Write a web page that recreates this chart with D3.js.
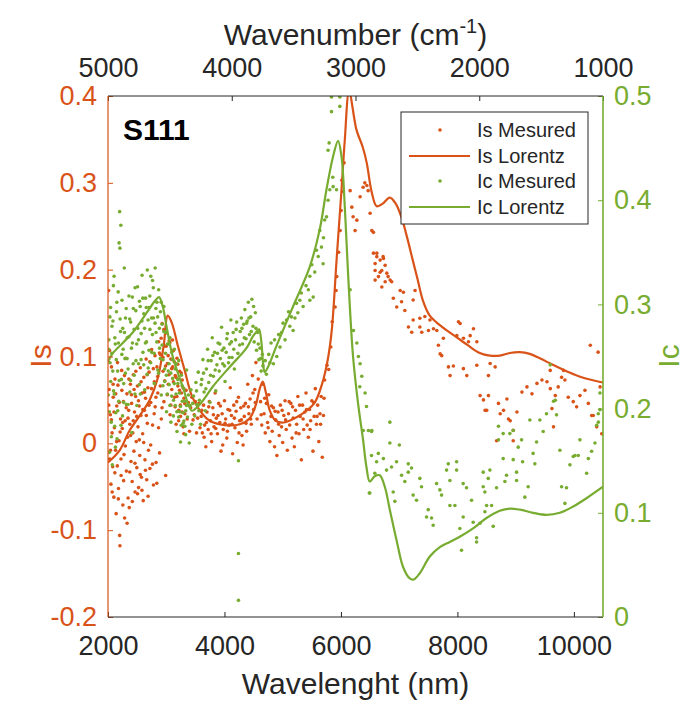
<!DOCTYPE html>
<html><head><meta charset="utf-8">
<script src="https://cdn.jsdelivr.net/npm/d3@7"></script>
<style>body{margin:0;background:#fff;} svg{display:block;font-family:"Liberation Sans",Arial,Helvetica,sans-serif;}</style>
</head><body><svg id="c" width="696" height="704"></svg>
<script>
// ---------- data ----------
const xTicks = [2000, 4000, 6000, 8000, 10000];
const topTicks = [5000, 4000, 3000, 2000, 1000];
const isTicks = [-0.2, -0.1, 0, 0.1, 0.2, 0.3, 0.4];
const icTicks = [0, 0.1, 0.2, 0.3, 0.4, 0.5];
const seriesNames = ["Is Mesured", "Is Lorentz", "Ic Mesured", "Ic Lorentz"];

const isLorentz = [[2000,-0.022],[2200,-0.008],[2373,0.015],[2545,0.032],[2716,0.05],[2854,0.075],[2957,0.113],[3025,0.147],[3094,0.139],[3197,0.113],[3317,0.084],[3438,0.055],[3575,0.038],[3747,0.026],[4004,0.021],[4262,0.022],[4434,0.029],[4537,0.044],[4606,0.063],[4657,0.071],[4709,0.059],[4777,0.038],[4880,0.026],[5018,0.024],[5206,0.029],[5378,0.036],[5550,0.047],[5670,0.067],[5773,0.096],[5842,0.13],[5928,0.214],[6009,0.291],[6066,0.349],[6140,0.405],[6267,0.361],[6375,0.341],[6443,0.323],[6529,0.289],[6615,0.273],[6718,0.276],[6838,0.283],[6941,0.276],[7045,0.259],[7148,0.234],[7233,0.211],[7319,0.188],[7405,0.165],[7525,0.147],[7645,0.139],[7817,0.13],[7989,0.122],[8178,0.113],[8384,0.104],[8556,0.101],[8728,0.101],[8900,0.104],[9072,0.105],[9243,0.103],[9415,0.098],[9621,0.091],[9810,0.085],[10016,0.079],[10188,0.075],[10500,0.07]];

const icLorentz = [[2000,0.245],[2080,0.253],[2252,0.263],[2424,0.273],[2665,0.292],[2802,0.303],[2876,0.307],[2940,0.298],[3008,0.278],[3111,0.25],[3283,0.221],[3438,0.198],[3523,0.201],[3661,0.21],[3798,0.221],[4090,0.24],[4377,0.258],[4485,0.269],[4554,0.274],[4594,0.276],[4635,0.263],[4662,0.244],[4691,0.235],[4748,0.24],[4892,0.26],[5064,0.283],[5178,0.298],[5464,0.336],[5636,0.372],[5751,0.41],[5865,0.442],[5951,0.457],[6009,0.442],[6066,0.394],[6122,0.33],[6208,0.25],[6294,0.205],[6380,0.17],[6438,0.144],[6495,0.13],[6581,0.135],[6667,0.136],[6753,0.125],[6839,0.103],[6954,0.074],[7067,0.048],[7182,0.037],[7251,0.036],[7354,0.042],[7526,0.058],[7698,0.067],[7869,0.072],[8041,0.077],[8269,0.085],[8499,0.095],[8728,0.102],[8900,0.104],[9072,0.103],[9300,0.1],[9530,0.098],[9759,0.1],[9987,0.106],[10217,0.114],[10500,0.125]];

const isMeasured = [[2010,0.176],[2020,0.062],[2030,-0.018],[2040,0.033],[2050,-0.047],[2060,0.088],[2070,0.012],[2080,-0.027],[2090,0.053],[2100,-0.062],[2110,0.018],[2120,0.074],[2130,-0.008],[2140,-0.081],[2150,0.043],[2160,-0.026],[2170,0.067],[2180,-0.052],[2190,0.003],[2200,-0.106],[2205,-0.118],[2215,0.028],[2225,-0.037],[2235,0.084],[2245,0.017],[2255,-0.071],[2265,0.048],[2275,-0.013],[2285,-0.086],[2295,0.026],
[2305,0.098],[2315,-0.032],[2325,0.057],[2335,0.007],[2345,-0.063],[2355,0.038],[2365,-0.074],[2375,0.022],[2385,0.068],[2395,-0.021],[2405,0.046],[2415,-0.044],[2425,0.012],[2435,0.079],[2445,-0.009],[2455,0.036],[2465,-0.056],[2475,0.054],[2485,0.002],[2495,-0.028],[2505,0.066],[2515,0.019],[2525,-0.051],[2535,0.043],[2545,-0.014],[2555,0.087],[2565,0.032],[2575,-0.039],[2585,0.058],[2595,0.011],[2605,-0.066],[2615,0.076],[2625,0.038],[2635,-0.019],[2645,0.052],[2655,0.097],[2665,-0.042],[2675,0.023],[2685,0.064],[2695,-0.008],
[2705,0.082],[2720,-0.029],[2735,0.047],[2750,0.108],[2765,0.021],[2780,-0.048],[2795,0.071],[2810,0.042],[2825,-0.022],[2840,0.088],[2855,0.058],[2870,0.117],[2885,-0.011],[2900,0.102],[2915,0.028],[2930,0.138],[2945,0.083],[2960,0.048],[2975,0.112],[2990,-0.037],[3005,0.127],[3020,0.092],[3035,0.068],[3050,0.118],[3065,0.033],[3080,0.097],[3095,0.062],
[3110,0.088],[3125,0.107],[3140,0.053],[3155,0.078],[3170,0.022],[3185,0.098],[3200,0.066],[3215,0.038],[3230,0.083],[3245,0.031],[3260,0.058],[3275,0.073],[3290,0.019],[3305,0.052],[3320,0.034],[3340,0.061],[3360,0.028],[3380,0.047],[3400,0.014],[3420,0.041],[3440,0.053],[3460,0.027],[3480,0.033],[3500,0.048],[3520,0.012],[3540,0.029],[3560,0.046],[3580,0.018],
[2012,0.044],[2027,0.107],[2043,-0.008],[2058,0.027],[2072,-0.056],[2088,0.068],[2103,0.036],[2118,-0.034],[2133,0.057],[2148,0.002],[2163,0.093],[2178,-0.064],[2193,0.047],[2208,0.013],[2223,-0.018],[2238,0.061],[2253,0.024],[2268,-0.043],[2283,0.078],[2298,-0.003],[2313,0.041],[2328,-0.092],[2343,0.029],[2358,0.074],[2373,-0.033],[2388,0.009],[2403,0.056],[2418,-0.067],[2433,0.026],[2448,0.062],[2463,-0.023],[2478,0.083],[2493,0.031],[2508,-0.058],[2523,0.049],[2538,0.004],[2553,-0.036],[2568,0.071],[2583,-0.054],[2598,0.039],[2613,0.001],[2628,0.059],[2643,-0.031],[2658,0.032],[2673,0.079],[2688,-0.061],[2703,0.044],[2718,0.094],[2733,-0.002],[2748,0.063],[2763,-0.024],[2778,0.086],[2793,0.034],[2808,0.101],[2823,0.053],[2838,-0.046],[2853,0.077],[2868,0.018],[2883,0.104],[2898,0.066],[2913,0.121],[2928,0.041],[2943,0.099],[2958,0.131],[2973,0.072],[2988,0.089],[3003,0.112],[3018,0.056],[3033,0.101],[3048,0.079],[3063,0.116],[3078,0.044],[3093,0.086],[3108,0.119],[3123,0.071],[3138,0.094],[3153,0.042],[3168,0.076],[3183,0.054],[3198,0.091],[3213,0.026],[3228,0.061],[3243,0.044],[3258,0.081],[3273,0.036],[3288,0.064],[3303,0.011],[3318,0.046],
[3600,0.031],[3620,0.012],[3640,0.044],[3660,0.021],[3680,-0.004],[3700,0.036],[3720,0.016],[3740,0.048],[3760,0.026],[3780,0.002],[3800,0.041],[3820,0.019],[3840,0.058],[3860,0.029],[3880,0.011],[3900,0.046],[3920,0.024],[3940,-0.009],[3960,0.034],[3980,0.016],[4000,0.049],[4020,0.028],[4040,0.006],[4060,0.039],[4080,0.021],[4100,0.064],[4120,0.032],[4140,-0.012],[4160,0.044],[4180,0.018],[4200,0.037],[4220,0.001],[4240,0.053],[4260,0.026],[4280,0.041],[4300,0.009],[4320,-0.002],[4340,0.031],[4360,0.046],[4380,0.014],[4400,0.068],[4420,0.034],[4440,0.051],[4460,0.022],[4480,0.078],[4500,0.039],[4520,0.062],[4540,0.093],[4560,0.028],[4580,0.074],
[3610,0.038],[3650,0.007],[3690,0.024],[3730,0.042],[3770,0.011],[3810,0.033],[3850,0.017],[3890,0.032],[3930,0.043],[3970,-0.002],[4010,0.023],[4050,0.014],[4090,0.038],[4130,0.022],[4170,0.029],[4210,0.048],[4250,0.012],[4290,0.027],[4330,0.043],[4370,0.023],[4410,0.042],[4450,0.028],[4490,0.058],[4530,0.047],[4630,0.033],[4690,0.052],[4750,0.018],[4810,0.043],[4870,0.037],[4930,0.022],[4990,0.038],[5050,0.027],[5110,0.048],[5170,0.042],[5230,0.012],[5290,0.044],[5350,0.028],[5410,0.039],[5470,0.016],[5530,0.047],[5590,0.031],[5650,0.022],
[4620,0.048],[4640,0.021],[4660,0.068],[4680,0.034],[4700,0.012],[4720,0.046],[4740,0.024],[4760,0.056],[4780,0.002],[4800,0.031],[4820,0.014],[4840,0.041],[4860,-0.004],[4880,0.027],[4900,-0.014],[4920,0.036],[4940,0.009],[4960,0.044],[4980,0.019],[5000,0.001],[5020,0.032],[5040,0.049],[5060,0.016],[5080,-0.008],[5100,0.034],[5120,0.021],[5140,0.046],[5160,0.006],[5180,0.029],[5200,-0.004],[5220,0.038],[5240,0.022],[5260,0.054],[5280,0.011],[5300,0.031],[5320,-0.019],[5340,0.044],[5360,0.016],[5380,0.036],[5400,0.058],[5420,0.021],[5440,0.007],[5460,0.039],[5480,0.026],[5500,0.049],[5520,-0.009],[5540,0.031],[5560,0.063],[5580,0.022],[5600,0.044],[5620,0.002],[5640,0.034],[5660,0.054],[5680,-0.016],[5700,0.032],[5710,0.052],[5720,0.073],
[5760,0.09],[5790,0.085],[5826,0.111],[5850,0.14],[5900,0.157],[5917,0.176],[5929,0.192],[5960,0.22],[5986,0.245],[6003,0.268],[6015,0.303],[6040,0.29],[6054,0.323],
[6158,0.291],[6187,0.272],[6209,0.261],[6243,0.245],[6273,0.257],[6329,0.284],[6381,0.295],[6410,0.3],[6445,0.297],[6467,0.291],[6501,0.265],[6530,0.245],[6558,0.243],[6587,0.199],[6616,0.219],[6644,0.192],[6673,0.211],[6701,0.199],[6724,0.215],[6759,0.186],[6810,0.192],
[6558,0.219],[6616,0.215],[6730,0.213],[6587,0.207],[6759,0.205],[6673,0.197],[6788,0.196],[6845,0.188],[6587,0.188],[6702,0.18],[6872,0.186],[7017,0.176],[7073,0.174],[7273,0.176],[6900,0.167],[7041,0.163],[6958,0.157],[7097,0.153],[7240,0.165],[7240,0.142],[7355,0.144],[7441,0.146],[7528,0.142],[7355,0.134],[7503,0.13],[7589,0.132],[7159,0.134],[7216,0.128],[7388,0.128],[7646,0.13],[8018,0.14],[8047,0.138],[8276,0.132],[8219,0.124],[7990,0.124],[8104,0.121],[8190,0.117],[8334,0.117],[7759,0.121],[7674,0.113],[7703,0.103],[7731,0.101],[7846,0.088],[7874,0.078],[7931,0.089],[8103,0.086],[8161,0.078],[8333,0.09],[8562,0.092],[8648,0.088],[8533,0.078],[8390,0.055],[8447,0.05],[8476,0.038],[8533,0.055],[8705,0.046],[8735,0.034],[8792,0.038],[8850,0.051],[8907,0.026],[9022,0.036],[9108,0.059],[9194,0.065],[9280,0.057],[9366,0.069],[9452,0.073],[9538,0.071],[9595,0.063],[9681,0.055],[9623,0.04],[9731,0.065],[9789,0.076],[9846,0.073],[9903,0.053],[9989,0.048],[10047,0.042],[10104,0.055],[10190,0.061],[10248,0.046],[10306,0.032],[10392,0.019],[10478,0.011],[10450,0.065],[9594,0.084],[9823,0.084],[8503,0.038],[8877,0.028],[9650,0.019],[10332,0.032],[8673,0.003],[8958,0.003],[8958,0.015],[10416,0.105],[10282,0.113]];

const icMeasured = [[2005,0.213],[2015,0.266],[2025,0.158],[2035,0.244],[2045,0.297],[2055,0.187],[2065,0.253],[2075,0.146],[2085,0.284],[2095,0.217],[2105,0.327],[2115,0.183],[2125,0.262],[2135,0.196],[2145,0.293],[2155,0.171],[2165,0.236],[2175,0.312],[2185,0.207],[2190,0.359],[2200,0.389],[2205,0.354],[2215,0.274],[2220,0.376],[2230,0.228],[2240,0.304],[2250,0.193],[2260,0.257],[2270,0.224],[2280,0.335],[2290,0.248],
[2300,0.287],[2315,0.204],[2330,0.268],[2345,0.238],[2360,0.308],[2375,0.216],[2390,0.283],[2405,0.177],[2420,0.263],[2435,0.296],[2450,0.232],[2465,0.316],[2480,0.246],[2495,0.203],[2510,0.277],[2525,0.243],[2540,0.303],[2555,0.214],[2570,0.272],[2585,0.328],[2600,0.254],[2615,0.291],[2630,0.218],[2645,0.306],[2660,0.264],[2675,0.333],[2690,0.239],
[2705,0.297],[2720,0.276],[2735,0.327],[2750,0.254],[2765,0.323],[2780,0.287],[2795,0.224],[2810,0.335],[2825,0.273],[2840,0.302],[2855,0.237],[2870,0.314],[2885,0.258],[2900,0.293],[2915,0.213],[2930,0.281],[2945,0.247],[2960,0.298],[2975,0.226],[2990,0.273],[3005,0.197],[3020,0.262],[3035,0.236],[3050,0.223],[3065,0.268],[3080,0.187],[3095,0.254],[3110,0.229],[3125,0.208],[3140,0.257],[3155,0.203],[3170,0.243],[3185,0.178],[3200,0.224],[3215,0.246],[3230,0.197],[3245,0.168],[3260,0.232],[3275,0.207],[3290,0.186],[3305,0.219],[3320,0.183],[3335,0.198],[3350,0.237],[3365,0.192],[3380,0.213],[3395,0.167],[3410,0.203],[3425,0.218],[3440,0.185],[3455,0.205],
[2010,0.257],[2022,0.197],[2033,0.288],[2047,0.226],[2058,0.173],[2068,0.279],[2082,0.236],[2093,0.318],[2108,0.214],[2118,0.268],[2128,0.163],[2142,0.247],[2152,0.302],[2168,0.198],[2178,0.263],[2193,0.227],[2208,0.286],[2223,0.184],[2238,0.252],[2253,0.277],[2268,0.206],[2283,0.273],[2298,0.234],[2313,0.296],[2328,0.248],[2343,0.204],[2358,0.269],[2373,0.286],[2388,0.227],[2403,0.258],[2418,0.307],[2433,0.243],[2448,0.276],[2463,0.214],[2478,0.294],[2493,0.262],[2508,0.317],[2523,0.266],[2538,0.223],[2553,0.298],[2568,0.247],[2583,0.284],[2598,0.306],[2613,0.242],[2628,0.277],[2643,0.263],[2658,0.297],[2673,0.233],[2688,0.285],[2703,0.256],[2718,0.308],[2733,0.244],[2748,0.287],[2763,0.271],[2778,0.316],[2793,0.253],[2808,0.282],[2823,0.296],[2838,0.264],[2853,0.288],[2868,0.234],[2883,0.277],[2898,0.248],[2913,0.302],[2928,0.261],[2943,0.222],[2958,0.274],[2973,0.238],[2988,0.253],[3003,0.232],[3018,0.214],[3033,0.262],[3048,0.243],[3063,0.203],[3078,0.234],[3093,0.212],[3108,0.247],[3123,0.193],[3138,0.224],[3153,0.238],[3168,0.214],[3183,0.197],[3198,0.228],[3213,0.192],[3228,0.215],[3243,0.202],[3258,0.184],[3273,0.222],[3288,0.196],[3303,0.188],[3318,0.207],[3333,0.175],[3348,0.203],
[3470,0.212],[3490,0.193],[3510,0.225],[3530,0.204],[3550,0.235],[3570,0.208],[3590,0.185],[3610,0.228],[3630,0.247],[3650,0.216],[3670,0.198],[3690,0.238],[3710,0.257],[3730,0.225],[3750,0.206],[3770,0.246],[3790,0.268],[3810,0.231],[3830,0.254],[3850,0.217],[3870,0.242],[3890,0.263],[3910,0.236],[3930,0.248],[3950,0.278],[3970,0.243],[3990,0.258],[4010,0.226],[4030,0.254],[4050,0.272],[4070,0.244],[4090,0.262],[4110,0.285],[4130,0.249],[4150,0.273],[4170,0.238],[4190,0.266],[4210,0.283],[4230,0.253],[4240,0.15],[4240,0.061],[4240,0.016],[4270,0.274],[4290,0.287],[4310,0.262],[4330,0.281],[4350,0.295],[4370,0.267],[4390,0.284],[4410,0.302],[4430,0.271],[4450,0.288],[4470,0.305],[4490,0.279],[4510,0.264],[4530,0.292],[4550,0.256],[4570,0.273],[4590,0.247],[4610,0.258],[4630,0.236],[4650,0.252],
[3520,0.217],[3560,0.198],[3600,0.223],[3640,0.234],[3680,0.219],[3720,0.246],[3760,0.232],[3800,0.251],[3840,0.237],[3880,0.253],[3920,0.262],[3960,0.256],[4000,0.241],[4040,0.267],[4080,0.249],[4120,0.264],[4160,0.257],[4200,0.276],[4260,0.261],[4300,0.277],[4340,0.268],[4380,0.282],[4420,0.287],[4460,0.274],[4500,0.298],[4540,0.277],[4580,0.262],[4620,0.248],[4660,0.241],[4700,0.246],
[4840,0.243],[4898,0.25],[4954,0.259],[5007,0.282],[5065,0.285],[5122,0.279],[5179,0.275],[5237,0.301],[5294,0.304],[5351,0.298],[5466,0.304],[5523,0.307],[5466,0.327],[5580,0.352],[5666,0.355],[5637,0.371],[5694,0.339],[5752,0.384],[5779,0.4],[5809,0.41],[5866,0.413],[5924,0.41],[5779,0.448],[5797,0.455],[5838,0.485],[5838,0.499],[5981,0.49],[5981,0.499],[4760,0.252],[4800,0.263],[4930,0.271],[5040,0.266],[5100,0.293],[5210,0.287],[5400,0.318],[5550,0.331],
[4720,0.233],[4780,0.244],[4860,0.266],[4980,0.273],[5150,0.288],[5260,0.292],[5320,0.311],[5440,0.314],[5500,0.338],[5610,0.346],[5700,0.364],[5720,0.381],[5860,0.422],
[6158,0.314],[6215,0.275],[6273,0.263],[6300,0.25],[6329,0.243],[6358,0.231],[6415,0.215],[6472,0.179],[6530,0.179],[6324,0.221],[6383,0.179],[6439,0.202],[6487,0.119],
[6525,0.178],[6840,0.187],[6840,0.167],[7003,0.165],[6525,0.155],[6642,0.157],[6729,0.152],[6612,0.149],[6783,0.141],[6582,0.138],[6869,0.144],[6955,0.149],[7156,0.147],[7041,0.136],[7097,0.13],[7156,0.139],[7212,0.143],[7355,0.133],[7384,0.125],[7240,0.117],[7298,0.112],[6897,0.12],[6496,0.119],[6926,0.111],[7499,0.103],[7470,0.096],[7556,0.095],[7584,0.088],[7642,0.128],[7699,0.122],[7728,0.117],[7814,0.141],[7871,0.131],[7843,0.147],[7986,0.149],[7986,0.141],[8099,0.128],[8157,0.124],[8243,0.112],[7871,0.107],[7957,0.107],[8099,0.096],[8042,0.085],[8071,0.064],[8329,0.076],[8329,0.072],[8271,0.091],[8386,0.09],[8443,0.139],[8558,0.141],[8529,0.133],[8443,0.125],[8472,0.12],[8672,0.124],[8501,0.107],[8587,0.107],[8472,0.101],[8615,0.087],[8786,0.152],[8844,0.136],[8815,0.13],[8958,0.151],[9016,0.139],[9016,0.131],[8901,0.176],[9044,0.163],[9102,0.17],[8705,0.183],[8705,0.17],[8786,0.176],[8958,0.179],[9119,0.149],[9215,0.125],[9158,0.115],[9300,0.157],[9330,0.147],[9359,0.168],[9473,0.178],[9416,0.189],[9530,0.195],[9702,0.194],[9760,0.16],[9789,0.125],[9874,0.124],[9846,0.109],[9932,0.146],[9989,0.154],[10018,0.155],[10075,0.155],[10104,0.17],[10219,0.138],[10248,0.152],[10305,0.159],[10362,0.167],[10391,0.184],[10419,0.195],[10448,0.199],[9650,0.207],[9244,0.189],[9682,0.208],[10420,0.187],[10448,0.215],[9594,0.242]];

// ---------- layout ----------
const L = 108, R = 603, T = 96, B = 617;
const orange = "#D95319", green = "#77AC30", dark = "#262626";
const svg = d3.select("#c");
const x = d3.scaleLinear().domain([2000, 10500]).range([L, R]);
const xTop = d3.scaleLinear().domain([5000, 1000]).range([L, R]);
const yS = d3.scaleLinear().domain([-0.2, 0.4]).range([B, T]);
const yC = d3.scaleLinear().domain([0, 0.5]).range([B, T]);

svg.append("rect").attr("width", 696).attr("height", 704).attr("fill", "#fff");
svg.append("defs").append("clipPath").attr("id", "clip")
  .append("rect").attr("x", L).attr("y", T).attr("width", R - L).attr("height", B - T);

const plot = svg.append("g").attr("clip-path", "url(#clip)");
const r = 1.8;
plot.append("g").selectAll("circle").data(isMeasured).join("circle")
  .attr("cx", d => x(d[0])).attr("cy", d => yS(d[1])).attr("r", r).attr("fill", orange);
const lineS = d3.line().x(d => x(d[0])).y(d => yS(d[1])).curve(d3.curveCatmullRom.alpha(0.5));
plot.append("path").datum(isLorentz).attr("d", lineS).attr("fill", "none").attr("stroke", orange).attr("stroke-width", 2.2);
plot.append("g").selectAll("circle").data(icMeasured).join("circle")
  .attr("cx", d => x(d[0])).attr("cy", d => yC(d[1])).attr("r", r).attr("fill", green);
const lineC = d3.line().x(d => x(d[0])).y(d => yC(d[1])).curve(d3.curveCatmullRom.alpha(0.5));
plot.append("path").datum(icLorentz).attr("d", lineC).attr("fill", "none").attr("stroke", green).attr("stroke-width", 2.2);

// ---------- axes ----------
function styleAxis(g, color, size) {
  g.select(".domain").remove();
  g.selectAll(".tick line").attr("stroke", color).attr("stroke-width", 1);
  g.selectAll(".tick text").attr("fill", color).style("font-size", size + "px")
    .style("font-family", '"Liberation Sans", Arial, sans-serif');
}
const fs = 27;
const gB = svg.append("g").attr("transform", `translate(0,${B})`)
  .call(d3.axisBottom(x).tickValues(xTicks).tickSize(-5).tickPadding(19).tickFormat(d3.format("d")));
styleAxis(gB, dark, fs);
const gT = svg.append("g").attr("transform", `translate(0,${T})`)
  .call(d3.axisTop(xTop).tickValues(topTicks).tickSize(-5).tickPadding(19).tickFormat(d3.format("d")));
styleAxis(gT, dark, fs);
const gL = svg.append("g").attr("transform", `translate(${L},0)`)
  .call(d3.axisLeft(yS).tickValues(isTicks).tickSize(-5).tickPadding(11).tickFormat(d => d === 0 ? "0" : d3.format(".1f")(d).replace("−", "-")));
styleAxis(gL, orange, fs);
const gR = svg.append("g").attr("transform", `translate(${R},0)`)
  .call(d3.axisRight(yC).tickValues(icTicks).tickSize(-5).tickPadding(11).tickFormat(d => d === 0 ? "0" : d3.format(".1f")(d)));
styleAxis(gR, green, fs);

// frame lines
svg.append("line").attr("x1", L).attr("x2", R).attr("y1", T).attr("y2", T).attr("stroke", dark).attr("stroke-width", 1);
svg.append("line").attr("x1", L).attr("x2", R).attr("y1", B).attr("y2", B).attr("stroke", dark).attr("stroke-width", 1);
svg.append("line").attr("x1", L).attr("x2", L).attr("y1", T).attr("y2", B).attr("stroke", orange).attr("stroke-width", 1.2);
svg.append("line").attr("x1", R).attr("x2", R).attr("y1", T).attr("y2", B).attr("stroke", green).attr("stroke-width", 1.6);

// titles
const tf = 30;
svg.append("text").attr("x", (L + R) / 2).attr("y", 694).attr("text-anchor", "middle")
  .attr("fill", dark).style("font-size", tf + "px").text("Wavelenght (nm)");
const tt = svg.append("text").attr("x", (L + R) / 2).attr("y", 45).attr("text-anchor", "middle")
  .attr("fill", dark).style("font-size", tf + "px");
tt.append("tspan").text("Wavenumber (cm");
tt.append("tspan").attr("dy", -12).style("font-size", "20px").text("-1");
tt.append("tspan").attr("dy", 12).text(")");
svg.append("text").attr("transform", "translate(51,356) rotate(-90)").attr("text-anchor", "middle")
  .attr("fill", orange).style("font-size", tf + "px").text("Is");
svg.append("text").attr("transform", "translate(679,356) rotate(-90)").attr("text-anchor", "middle")
  .attr("fill", green).style("font-size", tf + "px").text("Ic");
svg.append("text").attr("x", 123).attr("y", 140).attr("fill", "#000")
  .style("font-size", "30px").style("font-weight", "bold").text("S111");

// legend
const lg = svg.append("g");
lg.append("rect").attr("x", 401).attr("y", 112).attr("width", 187).attr("height", 112)
  .attr("fill", "#fff").attr("stroke", dark).attr("stroke-width", 1);
const rowsY = [130, 156, 181, 207];
const legColors = [orange, orange, green, green];
seriesNames.forEach((name, i) => {
  const yy = rowsY[i];
  if (i % 2 === 0) {
    lg.append("circle").attr("cx", 440).attr("cy", yy).attr("r", 1.8).attr("fill", legColors[i]);
  } else {
    lg.append("line").attr("x1", 409).attr("x2", 470).attr("y1", yy).attr("y2", yy)
      .attr("stroke", legColors[i]).attr("stroke-width", 2.2);
  }
  lg.append("text").attr("x", 477).attr("y", yy + 7).attr("fill", dark)
    .style("font-size", "20px").text(name);
});
</script>
</body></html>
